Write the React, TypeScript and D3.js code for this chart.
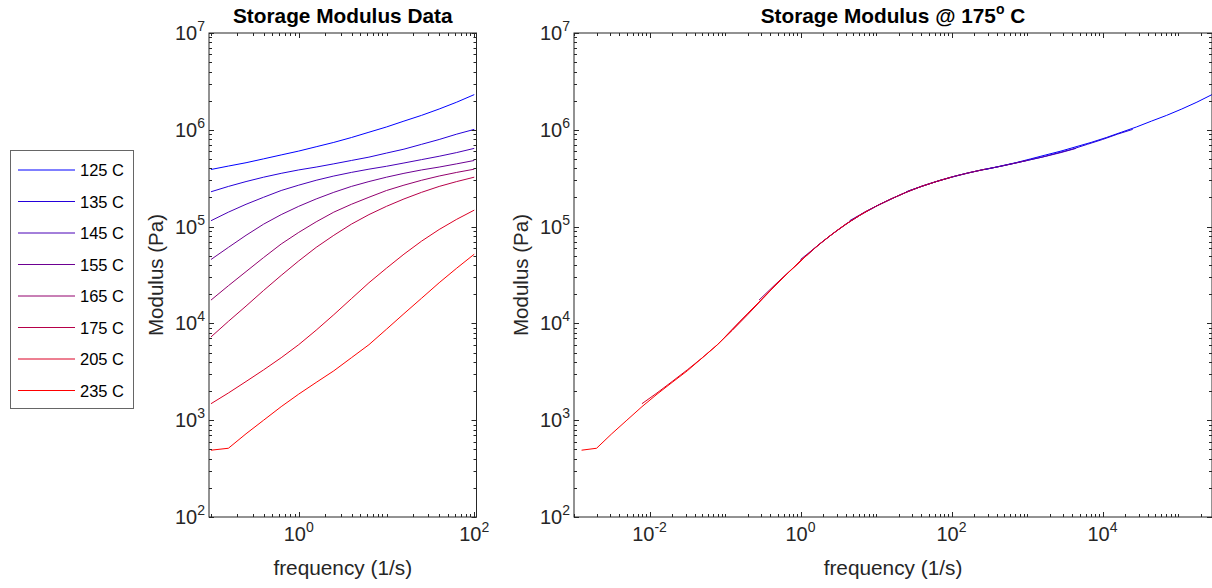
import * as d3 from 'd3';

// frequency sweep points (1/s), 5 per decade
const frequency = [0.1, 0.158, 0.251, 0.398, 0.631, 1, 1.58, 2.51, 3.98, 6.31, 10, 15.8, 25.1, 39.8, 63.1, 100];

const temperatures = ['125 C', '135 C', '145 C', '155 C', '165 C', '175 C', '205 C', '235 C'];

// storage modulus (Pa) per temperature
const modulus125 = [3.89e5, 4.22e5, 4.57e5, 5.01e5, 5.5e5, 6.03e5, 6.68e5, 7.41e5, 8.32e5, 9.44e5, 1.07e6, 1.23e6, 1.41e6, 1.64e6, 1.93e6, 2.31e6];
const modulus135 = [2.29e5, 2.6e5, 2.92e5, 3.24e5, 3.55e5, 3.85e5, 4.12e5, 4.45e5, 4.82e5, 5.22e5, 5.75e5, 6.31e5, 7.08e5, 7.94e5, 9.02e5, 1.01e6];
const modulus145 = [1.15e5, 1.41e5, 1.7e5, 2.01e5, 2.36e5, 2.68e5, 3.01e5, 3.33e5, 3.63e5, 3.92e5, 4.2e5, 4.54e5, 4.92e5, 5.33e5, 5.82e5, 6.43e5];
const modulus155 = [4.57e4, 6.1e4, 8.13e4, 1.06e5, 1.33e5, 1.62e5, 1.93e5, 2.26e5, 2.6e5, 2.92e5, 3.24e5, 3.55e5, 3.85e5, 4.12e5, 4.45e5, 4.82e5];
const modulus165 = [1.74e4, 2.45e4, 3.43e4, 4.79e4, 6.61e4, 8.71e4, 1.12e5, 1.41e5, 1.7e5, 2.01e5, 2.36e5, 2.68e5, 3.01e5, 3.33e5, 3.63e5, 3.92e5];
const modulus175 = [7.24e3, 1.05e4, 1.51e4, 2.19e4, 3.13e4, 4.42e4, 6.1e4, 8.13e4, 1.06e5, 1.33e5, 1.62e5, 1.93e5, 2.26e5, 2.6e5, 2.92e5, 3.24e5];
const modulus205 = [1.48e3, 1.91e3, 2.51e3, 3.31e3, 4.42e3, 6.03e3, 8.51e3, 1.23e4, 1.8e4, 2.63e4, 3.72e4, 5.19e4, 7.08e4, 9.33e4, 1.19e5, 1.48e5];
const modulus235 = [490, 513, 724, 1000, 1380, 1860, 2455, 3236, 4416, 6026, 8710, 1.26e4, 1.82e4, 2.63e4, 3.72e4, 5.19e4];

// horizontal shift factors aT to the 175 C reference
const shiftFactors = [2818, 251, 44.7, 10, 2.82, 1, 0.0794, 0.0126];

const seriesColors = ['#0000ff', '#2400db', '#4900b6', '#6d0092', '#92006d', '#b60049', '#db0024', '#ff0000'];

const modulusTicks = [1e2, 1e3, 1e4, 1e5, 1e6, 1e7];
const freqTicksLeft = [1, 100];
const freqTicksRight = [1e-2, 1, 1e2, 1e4];

const allModulus = [modulus125, modulus135, modulus145, modulus155, modulus165, modulus175, modulus205, modulus235];

const FONT = 'Arial, "Liberation Sans", Helvetica, sans-serif';
const AXIS = '#262626';

const W = 1212;
const H = 588;

function expOf(v: number) {
  return Math.round(Math.log10(v));
}

function isDecade(v: number) {
  return Math.abs(v / Math.pow(10, expOf(v)) - 1) < 1e-9;
}

function minorValues(domain: number[]) {
  const out: number[] = [];
  const lo = Math.floor(Math.log10(domain[0]));
  const hi = Math.ceil(Math.log10(domain[1]));
  for (let d = lo; d <= hi; d++) {
    for (let m = 1; m <= 9; m++) {
      const v = m * Math.pow(10, d);
      if (v >= domain[0] && v <= domain[1]) out.push(v);
    }
  }
  return out;
}

function Panel({ x0, x1, y0, y1, xDomain, xLabels, title, shifted }: {
  x0: number; x1: number; y0: number; y1: number;
  xDomain: number[]; xLabels: number[]; title: any; shifted: boolean;
}) {
  const x = d3.scaleLog().domain(xDomain).range([x0, x1]);
  const y = d3.scaleLog().domain([1e2, 1e7]).range([y1, y0]);
  const line = d3.line<[number, number]>().x(d => x(d[0])).y(d => y(d[1]));
  const clipId = shifted ? 'clipR' : 'clipL';
  const xMinor = minorValues(xDomain);
  const yMinor = minorValues([1e2, 1e7]);
  const labeledX = new Set(xLabels.map(expOf));

  return (
    <g>
      <defs>
        <clipPath id={clipId}>
          <rect x={x0} y={y0} width={x1 - x0} height={y1 - y0} />
        </clipPath>
      </defs>
      <g clipPath={`url(#${clipId})`} fill="none" strokeWidth={1}>
        {allModulus.map((vals, i) => (
          <path key={i} stroke={seriesColors[i]}
            d={line(vals.map((g, k) => [frequency[k] * (shifted ? shiftFactors[i] : 1), g]) as [number, number][]) || ''} />
        ))}
      </g>
      {/* ticks, pointing inward on all sides */}
      <g stroke={AXIS} strokeWidth={1}>
        {xMinor.map((v, i) => {
          const major = isDecade(v) && labeledX.has(expOf(v));
          const len = major ? 5 : 3;
          const px = Math.round(x(v)) + 0.5;
          return (
            <g key={i}>
              <line x1={px} x2={px} y1={y1} y2={y1 - len} />
              <line x1={px} x2={px} y1={y0} y2={y0 + len} />
            </g>
          );
        })}
        {yMinor.map((v, i) => {
          const len = isDecade(v) ? 5 : 3;
          const py = Math.round(y(v)) + 0.5;
          return (
            <g key={i}>
              <line x1={x0} x2={x0 + len} y1={py} y2={py} />
              <line x1={x1} x2={x1 - len} y1={py} y2={py} />
            </g>
          );
        })}
      </g>
      <rect x={x0} y={y0} width={x1 - x0} height={y1 - y0} fill="none" stroke={AXIS} strokeWidth={1} />
      <g fontFamily={FONT} fill={AXIS}>
        {modulusTicks.map(v => (
          <text key={v} x={x0 - 4} y={y(v) + 7} fontSize={20} textAnchor="end">
            10<tspan fontSize={14} dy={-9}>{expOf(v)}</tspan>
          </text>
        ))}
        {xLabels.map(v => (
          <text key={v} x={x(v)} y={541} fontSize={20} textAnchor="middle">
            10<tspan fontSize={14} dy={-9}>{expOf(v)}</tspan>
          </text>
        ))}
        <text x={(x0 + x1) / 2} y={575} fontSize={20.8} textAnchor="middle">frequency (1/s)</text>
        <text transform={`translate(${x0 - 46},${(y0 + y1) / 2}) rotate(-90)`} fontSize={20.5} textAnchor="middle">Modulus (Pa)</text>
        <text x={(x0 + x1) / 2} y={23} fontSize={20.8} fontWeight="bold" fill="#000" textAnchor="middle">{title}</text>
      </g>
    </g>
  );
}

function Legend() {
  const top = 170;
  const step = 31.5;
  return (
    <g fontFamily={FONT}>
      <rect x={10.5} y={150.5} width={123} height={258} fill="#fff" stroke="#666" strokeWidth={1} />
      {temperatures.map((t, i) => (
        <g key={t}>
          <line x1={18} x2={75} y1={top + i * step} y2={top + i * step} stroke={seriesColors[i]} strokeWidth={1} />
          <text x={80} y={top + i * step + 6} fontSize={16.5} fill="#000">{t}</text>
        </g>
      ))}
    </g>
  );
}

export default function App() {
  return (
    <div style={{ position: 'absolute', left: 0, top: 0 }}>
      <svg width={W} height={H} viewBox={`0 0 ${W} ${H}`} style={{ display: 'block', background: '#fff' }}>
        <rect width={W} height={H} fill="#fff" />
        <Legend />
        <Panel x0={209} x1={476.5} y0={33} y1={517} xDomain={[0.095, 106]} xLabels={freqTicksLeft}
          title="Storage Modulus Data" shifted={false} />
        <Panel x0={574} x1={1212} y0={33} y1={517} xDomain={[1e-3, Math.pow(10, 5.45)]} xLabels={freqTicksRight}
          title={<>Storage Modulus @ 175<tspan fontSize={14} dy={-9}>o</tspan><tspan dy={9}> C</tspan></>} shifted={true} />
      </svg>
    </div>
  );
}
